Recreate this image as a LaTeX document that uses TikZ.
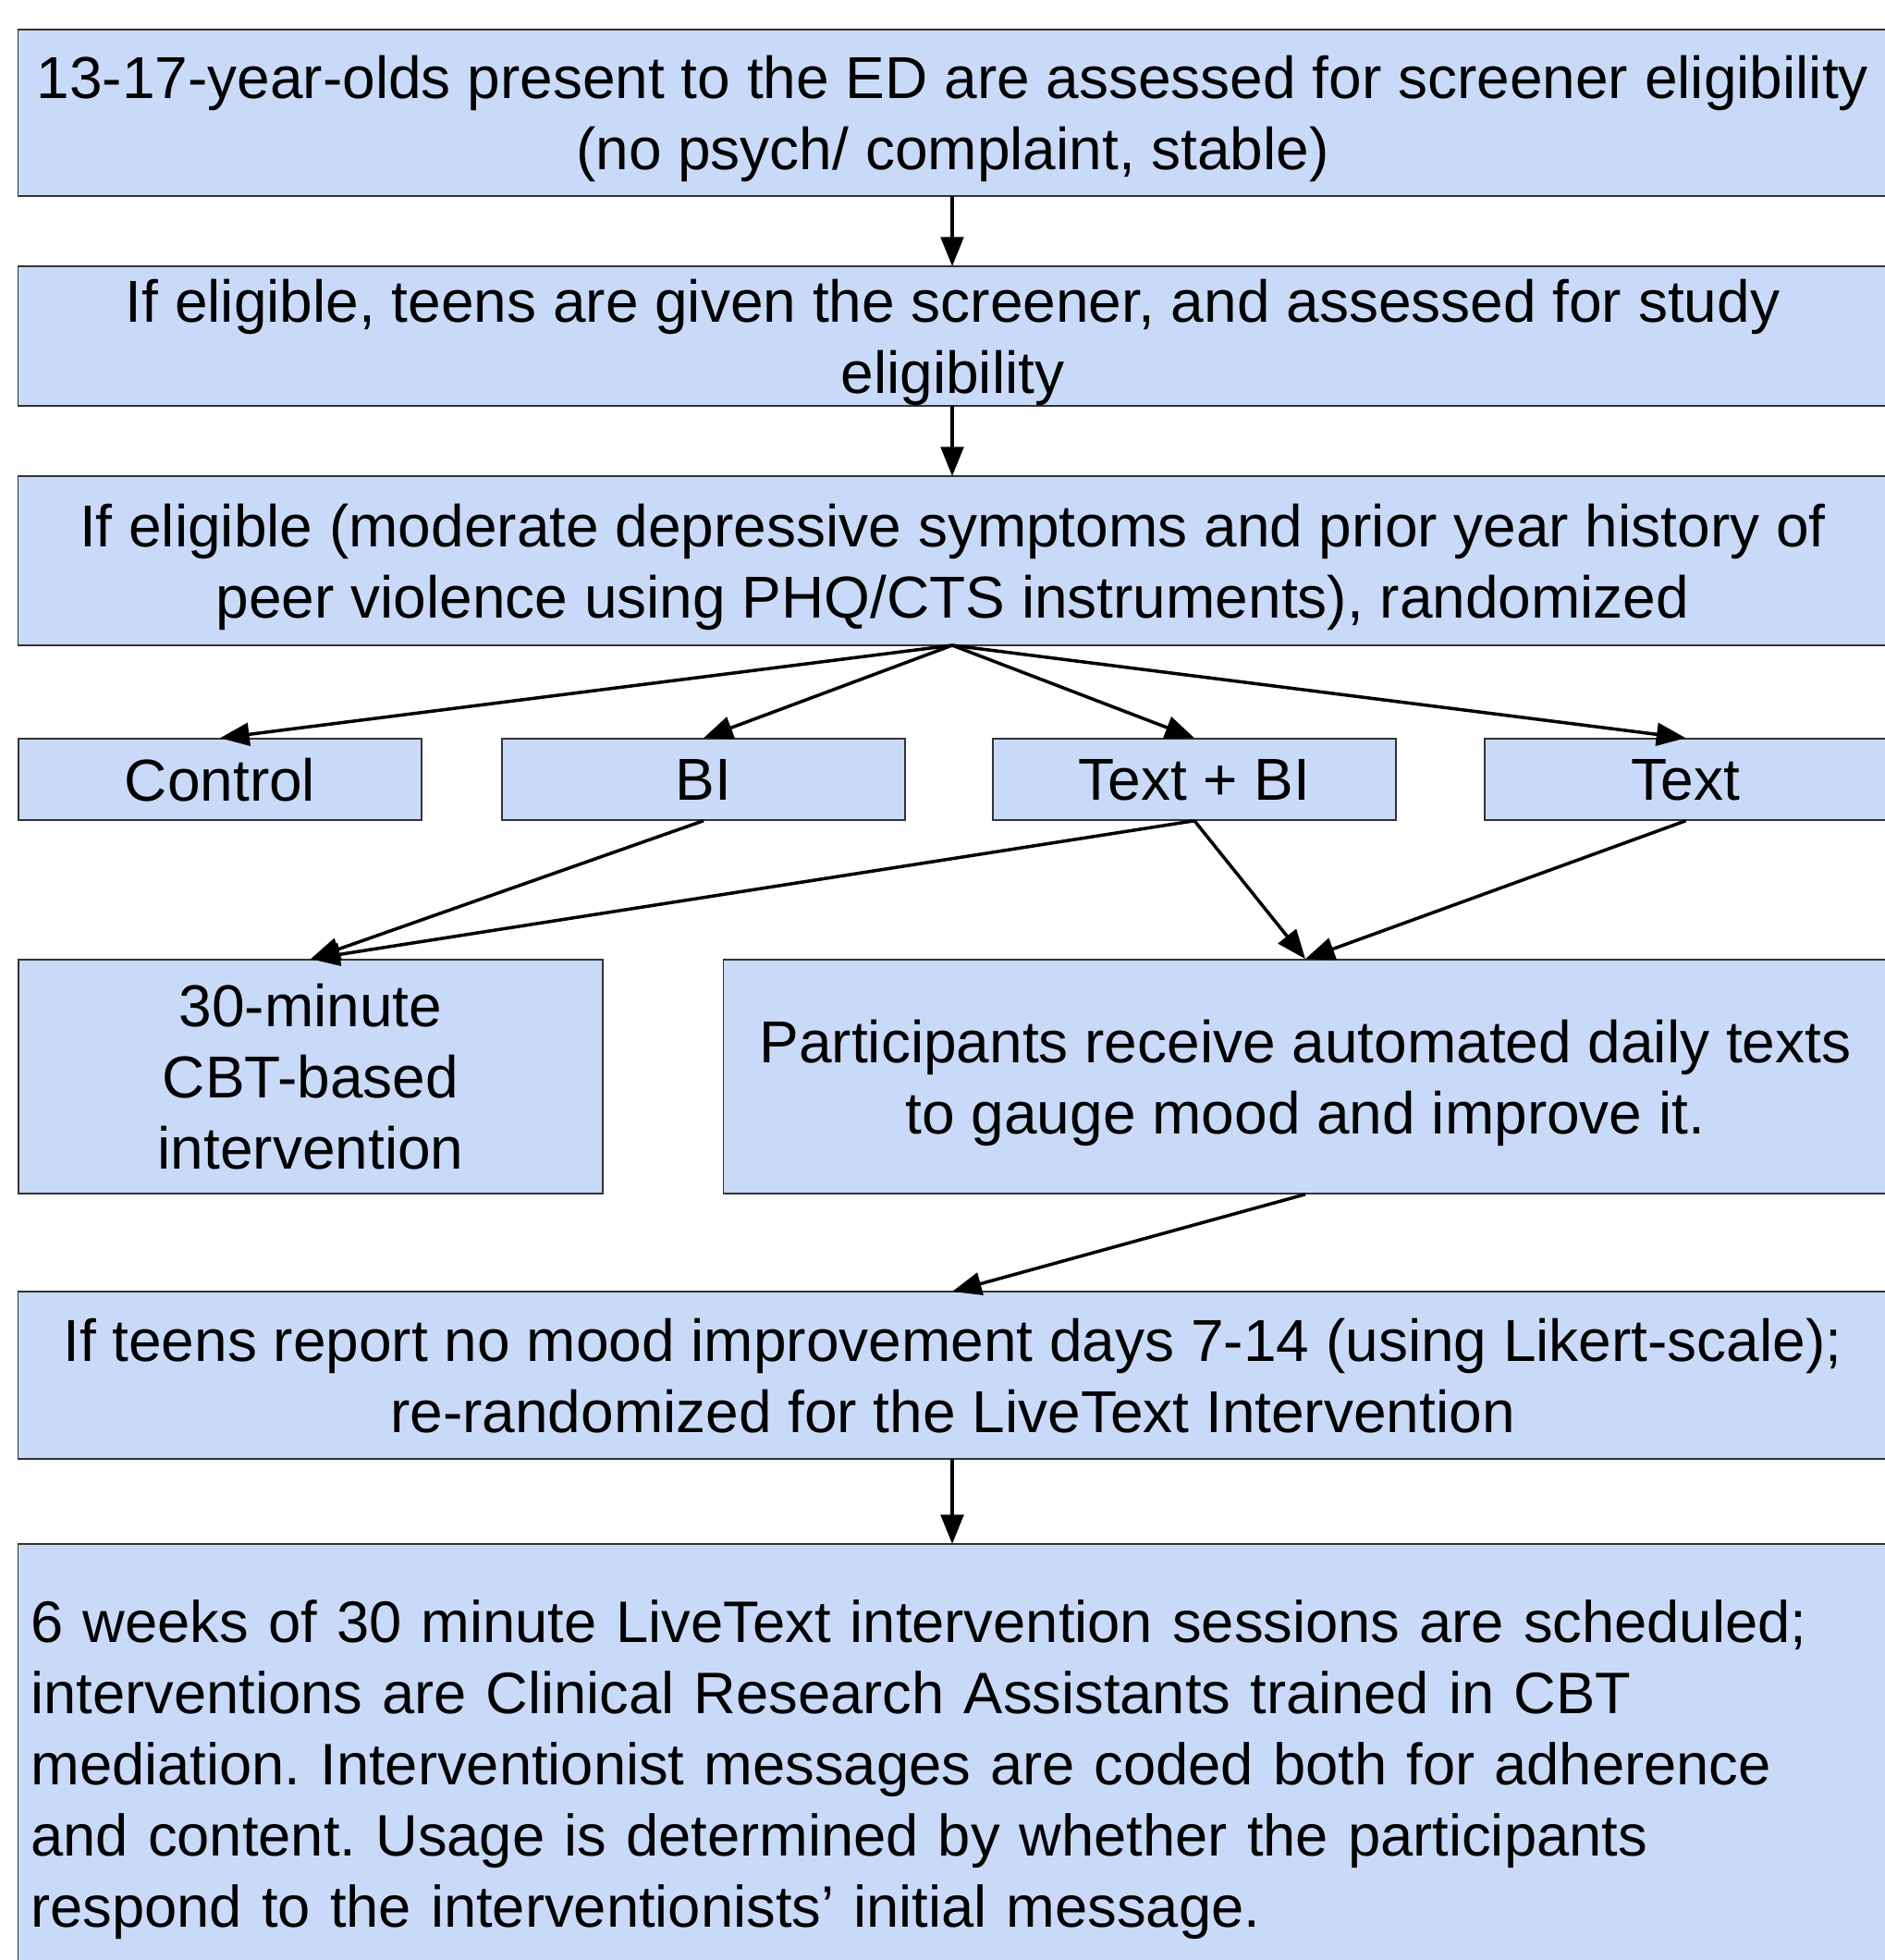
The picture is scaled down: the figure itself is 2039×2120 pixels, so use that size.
\documentclass[tikz,border=0pt]{standalone}
\usepackage{fontspec}
\setmainfont{Liberation Sans}
\usetikzlibrary{arrows.meta}
\definecolor{boxfill}{HTML}{C9DAF8}
\definecolor{boxline}{HTML}{333333}
\frenchspacing
\begin{document}
\begin{tikzpicture}[x=0.01cm,y=-0.01cm,
  boxbase/.style={draw=boxline,line width=0.4pt,fill=boxfill,inner sep=0pt,
    font=\fontsize{18.2pt}{21.9pt}\selectfont},
  box/.style={boxbase,text depth=0pt,align=center},
  conn/.style={line width=1pt,-{Triangle[length=9pt,width=7pt]}}]
\useasboundingbox (0,0) rectangle (2039,2120);
\fill[white] (0,0) rectangle (2039,2120);
\node[box,minimum width=20.21cm,minimum height=1.80cm] (b1) at (1030.5,122)
  {13-17-year-olds present to the ED are assessed for screener eligibility\\(no psych/ complaint, stable)};
\node[box,minimum width=20.21cm,minimum height=1.51cm] (b2) at (1030.5,363.5)
  {If eligible, teens are given the screener, and assessed for study\\eligibility};
\node[box,minimum width=20.21cm,minimum height=1.83cm] (b3) at (1030.5,606.5)
  {If eligible (moderate depressive symptoms and prior year history of\\peer violence using PHQ/CTS instruments), randomized};
\node[box,minimum width=4.36cm,minimum height=0.88cm] (ctrl) at (238,843) {Control};
\node[box,minimum width=4.36cm,minimum height=0.88cm] (bi) at (761,843) {BI};
\node[box,minimum width=4.36cm,minimum height=0.88cm] (tbi) at (1292,843) {Text + BI};
\node[box,minimum width=4.35cm,minimum height=0.88cm] (txt) at (1823.5,843) {Text};
\node[box,minimum width=6.32cm,minimum height=2.53cm] (cbt) at (336,1164.5)
  {30-minute\\CBT-based\\intervention};
\node[box,minimum width=12.58cm,minimum height=2.53cm] (part) at (1412,1164.5)
  {Participants receive automated daily texts\\to gauge mood and improve it.};
\node[box,minimum width=20.21cm,minimum height=1.81cm] (b5) at (1030.5,1487.5)
  {If teens report no mood improvement days 7-14 (using Likert-scale);\\re-randomized for the LiveText Intervention};
\node[boxbase,minimum width=20.21cm,minimum height=4.88cm,text width=19.93cm,inner xsep=0.14cm,align=left,
  font=\fontsize{18pt}{21.9pt}\selectfont] (b6) at (1030.5,1914)
  {6 weeks of 30 minute LiveText intervention sessions are scheduled;\\
   interventions are Clinical Research Assistants trained in CBT\\
   mediation. Interventionist messages are coded both for adherence\\
   and content. Usage is determined by whether the participants\\
   respond to the interventionists’ initial message.};
\coordinate (b1s) at (1030,212);
\coordinate (b2n) at (1030,288);
\coordinate (b2s) at (1030,439);
\coordinate (b3n) at (1030,515);
\coordinate (b3s) at (1030,698);
\coordinate (b5n) at (1030,1397);
\coordinate (b5s) at (1030,1578);
\coordinate (b6n) at (1030,1670);
\draw[conn] (b1s) -- (b2n);
\draw[conn] (b2s) -- (b3n);
\draw[conn] (b3s) -- (ctrl.north);
\draw[conn] (b3s) -- (bi.north);
\draw[conn] (b3s) -- (tbi.north);
\draw[conn] (b3s) -- (txt.north);
\draw[conn] (bi.south) -- (cbt.north);
\draw[conn] (tbi.south) -- (cbt.north);
\draw[conn] (tbi.south) -- (part.north);
\draw[conn] (txt.south) -- (part.north);
\draw[conn] (part.south) -- (b5n);
\draw[conn] (b5s) -- (b6n);
\end{tikzpicture}
\end{document}
